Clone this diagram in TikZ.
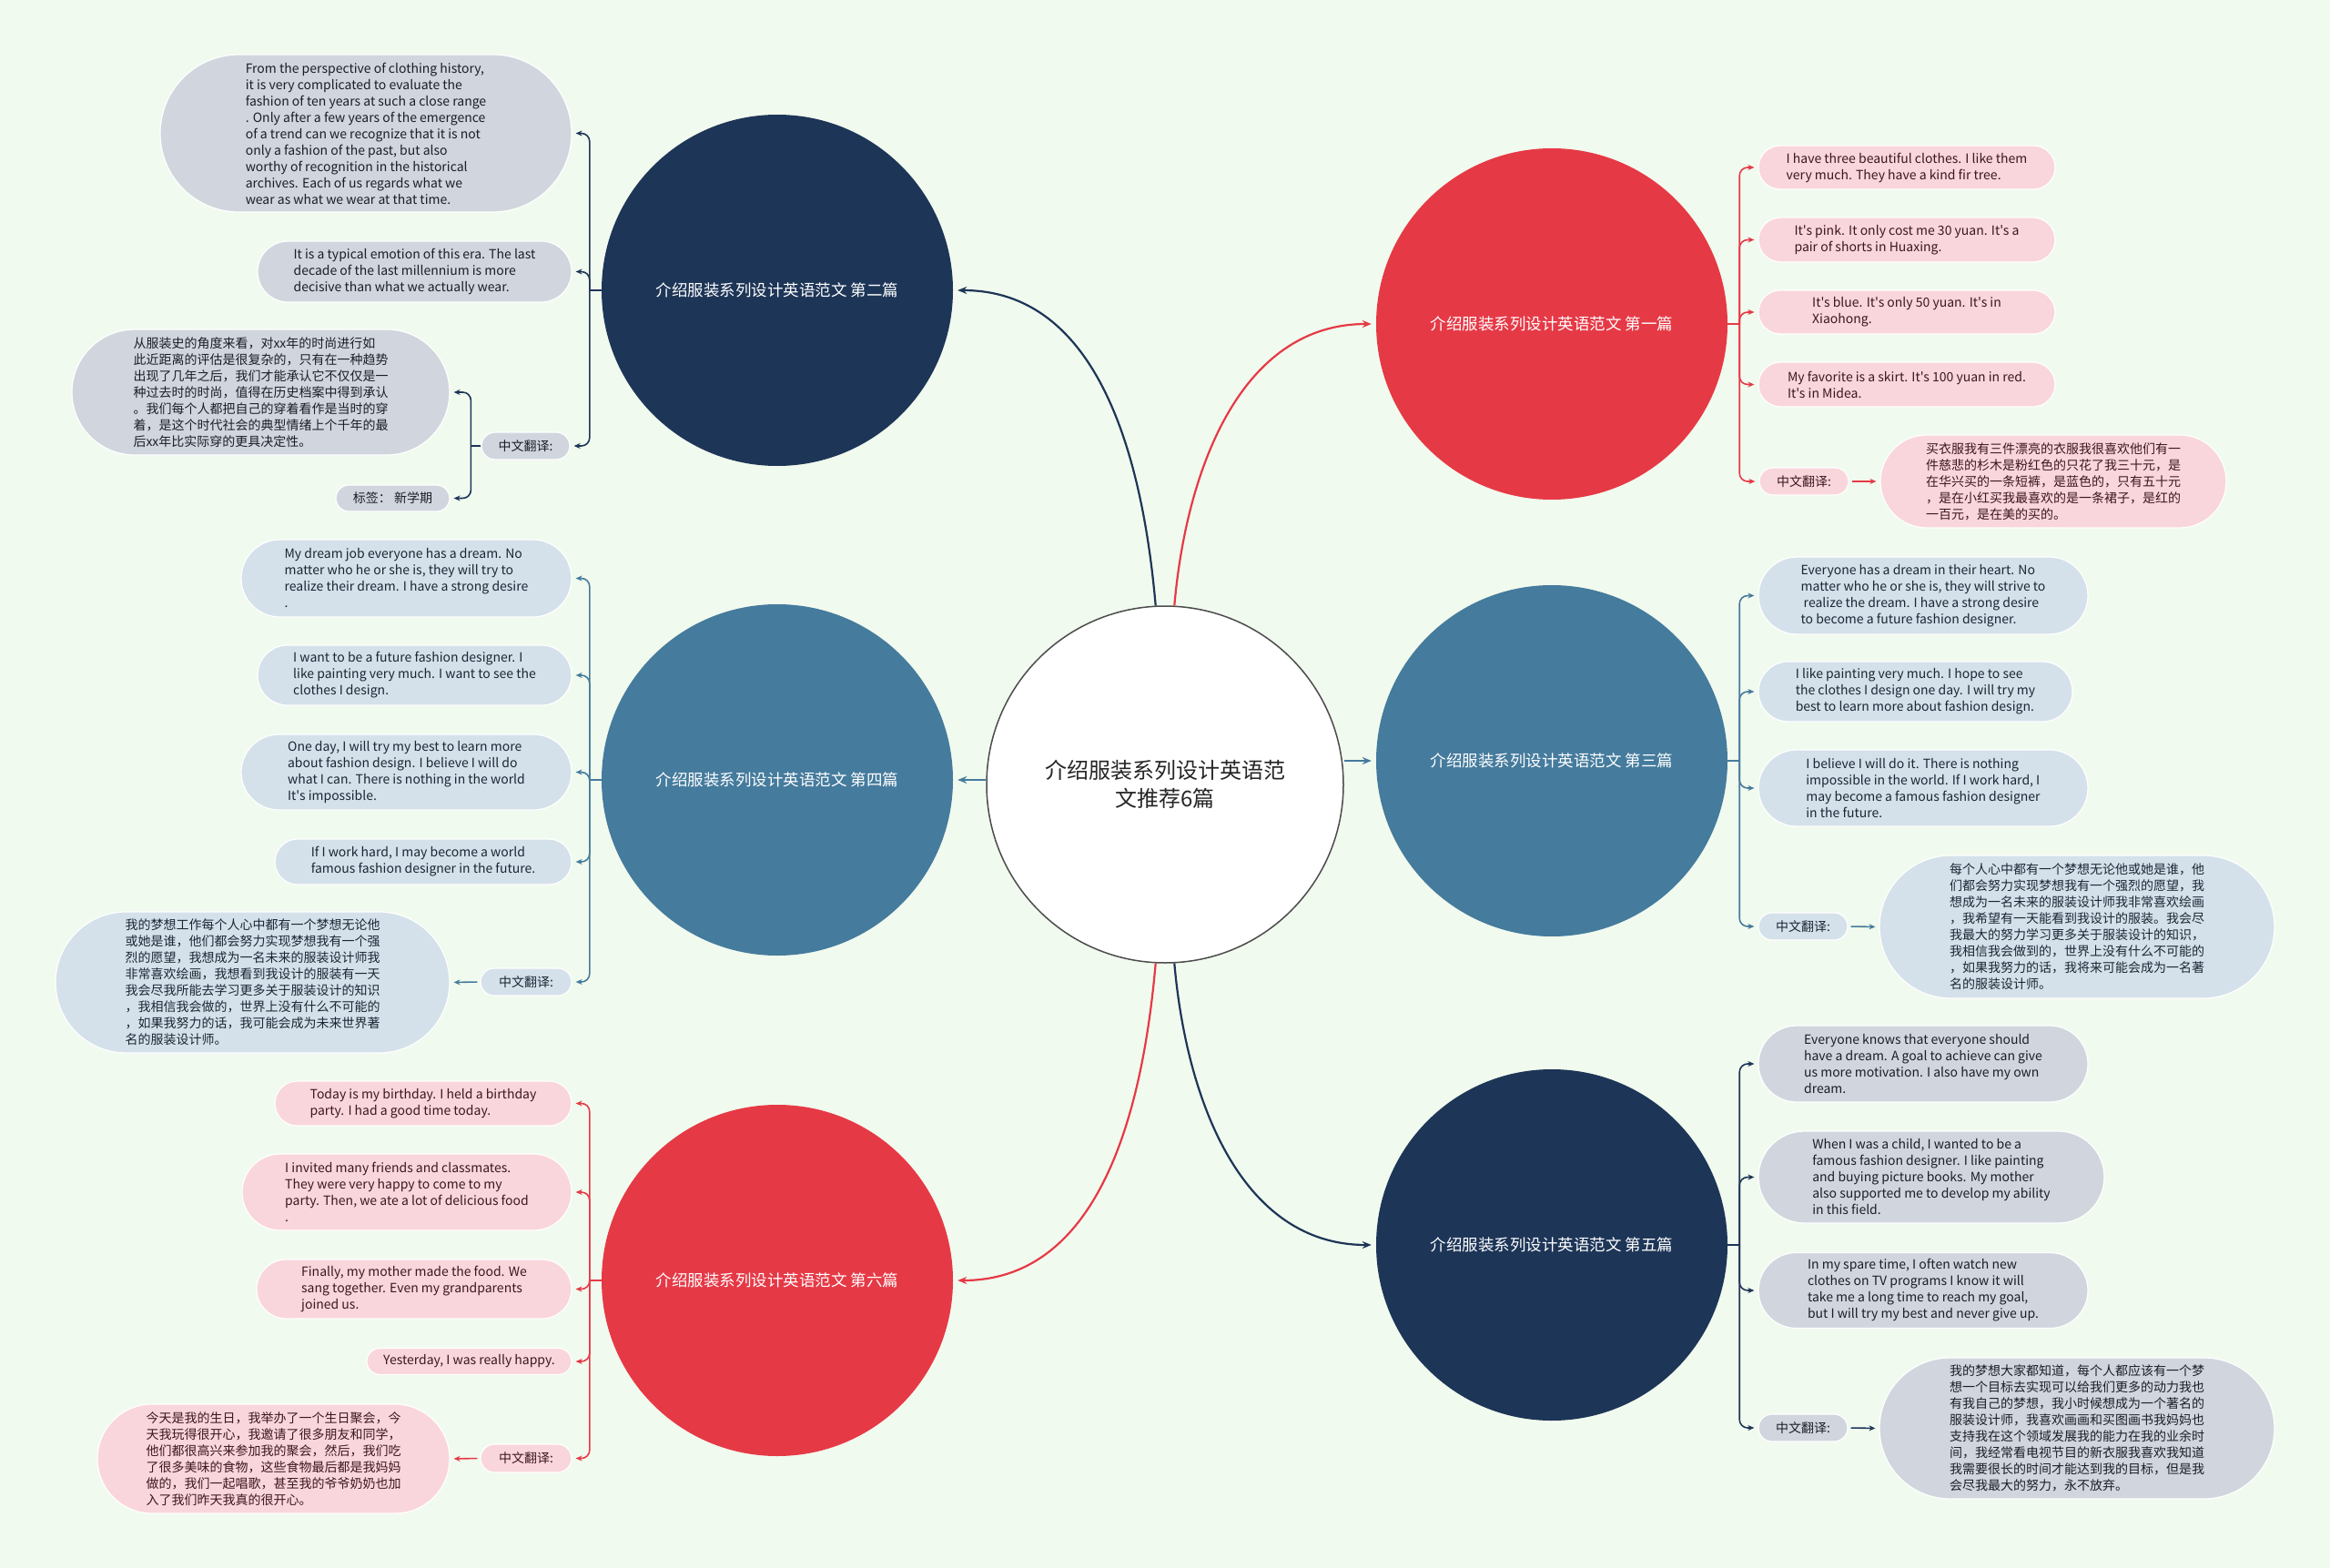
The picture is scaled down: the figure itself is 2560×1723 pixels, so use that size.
\documentclass[tikz,border=0pt]{standalone}
\usepackage{fontspec}
\setmainfont{Noto Sans CJK SC}[Ligatures=TeXOff]
\usetikzlibrary{arrows.meta, shapes.misc}

\definecolor{bgmint}{HTML}{F1FAEE}
\definecolor{tred}{HTML}{E63946}
\definecolor{tblue}{HTML}{457B9D}
\definecolor{tnavy}{HTML}{1D3557}
\definecolor{pinkfill}{RGB}{249,214,220}
\definecolor{bluefill}{RGB}{213,225,234}
\definecolor{navyfill}{RGB}{209,214,222}
\definecolor{pinktext}{RGB}{62,22,30}
\definecolor{bluetext}{RGB}{26,38,52}
\definecolor{navytext}{RGB}{28,30,38}

\begin{document}
\begin{tikzpicture}[
    x=1pt, y=-1pt,
    topic/.style={circle, minimum size=386pt, inner sep=0pt, text=white, align=center, font=\fontsize{17.5}{21}\selectfont},
    pill/.style={rounded rectangle, draw=white, line width=1.2pt, inner sep=0pt, align=left, font=\fontsize{14}{18}\selectfont},
    redpill/.style={pill, fill=pinkfill, text=pinktext},
    bluepill/.style={pill, fill=bluefill, text=bluetext},
    navypill/.style={pill, fill=navyfill, text=navytext},
    wh/.style 2 args={minimum width=#1pt, minimum height=#2pt},
    link/.style={line width=2.2pt, -{Stealth[length=10pt, width=8pt]}, shorten >=5pt},
    twig/.style={line width=1.6pt, rounded corners=9pt, -{Stealth[length=7pt, width=6pt]}, shorten >=4pt},
    stem/.style={line width=1.6pt}
]

% background
\fill[bgmint] (0,0) rectangle (2560,1723);

% Define nodes
\node[circle, minimum size=392pt, inner sep=0pt, fill=white, draw=black!70, line width=1.5pt, text=black!85, align=center, font=\fontsize{24}{31}\selectfont] (ctr) at (1280,862) {介绍服装系列设计英语范\\文推荐6篇};

\node[topic, fill=tnavy] (n2) at (854,319) {介绍服装系列设计英语范文 第二篇};
\node[topic, fill=tblue] (n4) at (854,857) {介绍服装系列设计英语范文 第四篇};
\node[topic, fill=tred] (n6) at (854,1407) {介绍服装系列设计英语范文 第六篇};
\node[topic, fill=tred] (n1) at (1705,356) {介绍服装系列设计英语范文 第一篇};
\node[topic, fill=tblue] (n3) at (1705,836) {介绍服装系列设计英语范文 第三篇};
\node[topic, fill=tnavy] (n5) at (1705,1368) {介绍服装系列设计英语范文 第五篇};

% second article
\node[navypill, wh={452}{173}] (n2a) at (402,146.5) {From the perspective of clothing history,\\it is very complicated to evaluate the\\fashion of ten years at such a close range\\. Only after a few years of the emergence\\of a trend can we recognize that it is not\\only a fashion of the past, but also\\worthy of recognition in the historical\\archives. Each of us regards what we\\wear as what we wear at that time.};
\node[navypill, wh={345}{67}] (n2b) at (455.5,298.5) {It is a typical emotion of this era. The last\\decade of the last millennium is more\\decisive than what we actually wear.};
\node[navypill, wh={97}{30}] (n2cn) at (577.5,490) {中文翻译:};
\node[navypill, wh={415}{138}] (n2zh) at (286.5,431) {从服装史的角度来看，对xx年的时尚进行如\\此近距离的评估是很复杂的，只有在一种趋势\\出现了几年之后，我们才能承认它不仅仅是一\\种过去时的时尚，值得在历史档案中得到承认\\。我们每个人都把自己的穿着看作是当时的穿\\着，是这个时代社会的典型情绪上个千年的最\\后xx年比实际穿的更具决定性。};
\node[navypill, wh={125}{29}] (n2tag) at (431.5,547.5) {标签： 新学期};

% fourth article
\node[bluepill, wh={363}{85}] (n4a) at (446.5,635.5) {My dream job everyone has a dream. No\\matter who he or she is, they will try to\\realize their dream. I have a strong desire\\.};
\node[bluepill, wh={345}{66}] (n4b) at (455.5,742) {I want to be a future fashion designer. I\\like painting very much. I want to see the\\clothes I design.};
\node[bluepill, wh={363}{83}] (n4c) at (446.5,848.5) {One day, I will try my best to learn more\\about fashion design. I believe I will do\\what I can. There is nothing in the world\\It's impossible.};
\node[bluepill, wh={326}{50}] (n4d) at (465,947) {If I work hard, I may become a world\\famous fashion designer in the future.};
\node[bluepill, wh={100}{30}] (n4cn) at (578,1079) {中文翻译:};
\node[bluepill, wh={433}{155}] (n4zh) at (277.5,1079.5) {我的梦想工作每个人心中都有一个梦想无论他\\或她是谁，他们都会努力实现梦想我有一个强\\烈的愿望，我想成为一名未来的服装设计师我\\非常喜欢绘画，我想看到我设计的服装有一天\\我会尽我所能去学习更多关于服装设计的知识\\，我相信我会做的，世界上没有什么不可能的\\，如果我努力的话，我可能会成为未来世界著\\名的服装设计师。};

% sixth article
\node[redpill, wh={326}{49}] (n6a) at (465,1212.5) {Today is my birthday. I held a birthday\\party. I had a good time today.};
\node[redpill, wh={362}{84}] (n6b) at (447,1310) {I invited many friends and classmates.\\They were very happy to come to my\\party. Then, we ate a lot of delicious food\\.};
\node[redpill, wh={346}{65}] (n6c) at (455,1416.5) {Finally, my mother made the food. We\\sang together. Even my grandparents\\joined us.};
\node[redpill, wh={225}{29}] (n6d) at (515.5,1496) {Yesterday, I was really happy.};
\node[redpill, wh={100}{31}] (n6cn) at (578,1602.5) {中文翻译:};
\node[redpill, wh={387}{120}] (n6zh) at (300.5,1603) {今天是我的生日，我举办了一个生日聚会，今\\天我玩得很开心，我邀请了很多朋友和同学，\\他们都很高兴来参加我的聚会，然后，我们吃\\了很多美味的食物，这些食物最后都是我妈妈\\做的，我们一起唱歌，甚至我的爷爷奶奶也加\\入了我们昨天我真的很开心。};

% first article
\node[redpill, wh={326}{48}] (n1a) at (2095,184) {I have three beautiful clothes. I like them\\very much. They have a kind fir tree.};
\node[redpill, wh={326}{49}] (n1b) at (2095,263.5) {It's pink. It only cost me 30 yuan. It's a\\pair of shorts in Huaxing.};
\node[redpill, wh={326}{48}] (n1c) at (2095,343) {It's blue. It's only 50 yuan. It's in\\Xiaohong.};
\node[redpill, wh={326}{49}] (n1d) at (2095,422.5) {My favorite is a skirt. It's 100 yuan in red.\\It's in Midea.};
\node[redpill, wh={98}{30}] (n1cn) at (1982,529) {中文翻译:};
\node[redpill, wh={380}{102}] (n1zh) at (2256,529) {买衣服我有三件漂亮的衣服我很喜欢他们有一\\件慈悲的杉木是粉红色的只花了我三十元，是\\在华兴买的一条短裤，是蓝色的，只有五十元\\，是在小红买我最喜欢的是一条裙子，是红的\\一百元，是在美的买的。};

% third article
\node[bluepill, wh={362}{85}] (n3a) at (2113,654.5) {Everyone has a dream in their heart. No\\matter who he or she is, they will strive to\\\ realize the dream. I have a strong desire\\to become a future fashion designer.};
\node[bluepill, wh={345}{66}] (n3b) at (2104.5,760) {I like painting very much. I hope to see\\the clothes I design one day. I will try my\\best to learn more about fashion design.};
\node[bluepill, wh={362}{84}] (n3c) at (2113,866) {I believe I will do it. There is nothing\\impossible in the world. If I work hard, I\\may become a famous fashion designer\\in the future.};
\node[bluepill, wh={98}{30}] (n3cn) at (1981,1018) {中文翻译:};
\node[bluepill, wh={434}{157}] (n3zh) at (2282,1018.5) {每个人心中都有一个梦想无论他或她是谁，他\\们都会努力实现梦想我有一个强烈的愿望，我\\想成为一名未来的服装设计师我非常喜欢绘画\\，我希望有一天能看到我设计的服装。我会尽\\我最大的努力学习更多关于服装设计的知识，\\我相信我会做到的，世界上没有什么不可能的\\，如果我努力的话，我将来可能会成为一名著\\名的服装设计师。};

% fifth article
\node[navypill, wh={362}{84}] (n5a) at (2113,1169) {Everyone knows that everyone should\\have a dream. A goal to achieve can give\\us more motivation. I also have my own\\dream.};
\node[navypill, wh={380}{101}] (n5b) at (2122,1293.5) {When I was a child, I wanted to be a\\famous fashion designer. I like painting\\and buying picture books. My mother\\also supported me to develop my ability\\in this field.};
\node[navypill, wh={362}{83}] (n5c) at (2113,1418) {In my spare time, I often watch new\\clothes on TV programs I know it will\\take me a long time to reach my goal,\\but I will try my best and never give up.};
\node[navypill, wh={98}{30}] (n5cn) at (1981,1569) {中文翻译:};
\node[navypill, wh={434}{155}] (n5zh) at (2282,1569.5) {我的梦想大家都知道，每个人都应该有一个梦\\想一个目标去实现可以给我们更多的动力我也\\有我自己的梦想，我小时候想成为一个著名的\\服装设计师，我喜欢画画和买图画书我妈妈也\\支持我在这个领域发展我的能力在我的业余时\\间，我经常看电视节目的新衣服我喜欢我知道\\我需要很长的时间才能达到我的目标，但是我\\会尽我最大的努力，永不放弃。};

% Define arrows
% centre -> articles
\draw[link, tnavy] (ctr.93) to[out=95, in=0] (n2.east);
\draw[link, tred] (ctr.87) to[out=85, in=180] (n1.west);
\draw[link, tblue] (ctr.west |- n4.east) -- (n4.east);
\draw[link, tblue] (ctr.east |- n3.west) -- (n3.west);
\draw[link, tred] (ctr.-93) to[out=-95, in=0] (n6.east);
\draw[link, tnavy] (ctr.-87) to[out=-85, in=180] (n5.west);

% left brackets
\draw[stem, tnavy] (n2.west) -- ++(-13,0) coordinate (j2);
\foreach \k in {n2a, n2b, n2cn} \draw[twig, tnavy] (j2) |- (\k.east);
\draw[stem, tnavy] (n2cn.west) -- ++(-11,0) coordinate (j2cn);
\foreach \k in {n2zh, n2tag} \draw[twig, tnavy] (j2cn) |- (\k.east);

\draw[stem, tblue] (n4.west) -- ++(-13,0) coordinate (j4);
\foreach \k in {n4a, n4b, n4c, n4d, n4cn} \draw[twig, tblue] (j4) |- (\k.east);
\draw[twig, tblue, shorten <=3pt] (n4cn.west) -- (n4zh.east);

\draw[stem, tred] (n6.west) -- ++(-13,0) coordinate (j6);
\foreach \k in {n6a, n6b, n6c, n6d, n6cn} \draw[twig, tred] (j6) |- (\k.east);
\draw[twig, tred, shorten <=3pt] (n6cn.west) -- (n6zh.east);

% right brackets
\draw[stem, tred] (n1.east) -- ++(13,0) coordinate (j1);
\foreach \k in {n1a, n1b, n1c, n1d, n1cn} \draw[twig, tred] (j1) |- (\k.west);
\draw[twig, tred, shorten <=3pt] (n1cn.east) -- (n1zh.west);

\draw[stem, tblue] (n3.east) -- ++(13,0) coordinate (j3);
\foreach \k in {n3a, n3b, n3c, n3cn} \draw[twig, tblue] (j3) |- (\k.west);
\draw[twig, tblue, shorten <=3pt] (n3cn.east) -- (n3zh.west);

\draw[stem, tnavy] (n5.east) -- ++(13,0) coordinate (j5);
\foreach \k in {n5a, n5b, n5c, n5cn} \draw[twig, tnavy] (j5) |- (\k.west);
\draw[twig, tnavy, shorten <=3pt] (n5cn.east) -- (n5zh.west);

\end{tikzpicture}
\end{document}
